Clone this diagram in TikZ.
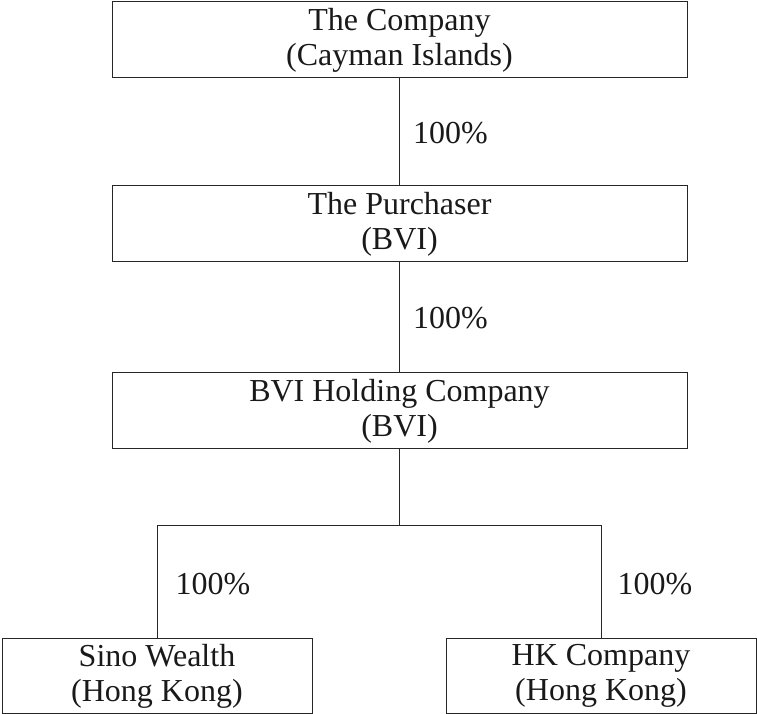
\documentclass[tikz,border=0pt]{standalone}
\usepackage{fontspec}
\setmainfont{Liberation Serif}
\begin{document}
\begin{tikzpicture}[x=1pt,y=1pt,
  ent/.style={draw=black!85, line width=1pt, align=center, inner sep=0pt,
    minimum height=76pt, font=\fontsize{32}{35}\selectfont, text=black!90},
  wide/.style={ent, minimum width=575pt},
  narrow/.style={ent, minimum width=310pt},
  link/.style={draw=black!85, line width=1pt},
  pct/.style={anchor=west, font=\fontsize{32}{35}\selectfont, text=black!90, inner sep=0pt}]
\useasboundingbox (0,0) rectangle (757,714);
\node[wide] (co) at (399.5,674) {The Company\\(Cayman Islands)};
\node[wide] (pu) at (399.5,490) {The Purchaser\\(BVI)};
\node[wide] (bh) at (399.5,303) {BVI Holding Company\\(BVI)};
\node[narrow, minimum height=75.5pt] (sw) at (157,38) {Sino Wealth\\(Hong Kong)};
\node[narrow, minimum height=75.5pt] (hk) at (601,38) {HK Company\\(Hong Kong)};
\coordinate (j) at (399.5,188);
\draw[link] (co.south) -- node[pct, xshift=13pt, yshift=-1pt] {100\%} (pu.north);
\draw[link] (pu.south) -- node[pct, xshift=13pt, yshift=-1pt] {100\%} (bh.north);
\draw[link] (bh.south) -- (j);
\draw[link] (sw.north) -- node[pct, xshift=18pt, yshift=-2pt] {100\%} (sw.north |- j) -- (j);
\draw[link] (j) -- (hk.north |- j) -- node[pct, xshift=16pt, yshift=-2pt] {100\%} (hk.north);
\end{tikzpicture}
\end{document}
